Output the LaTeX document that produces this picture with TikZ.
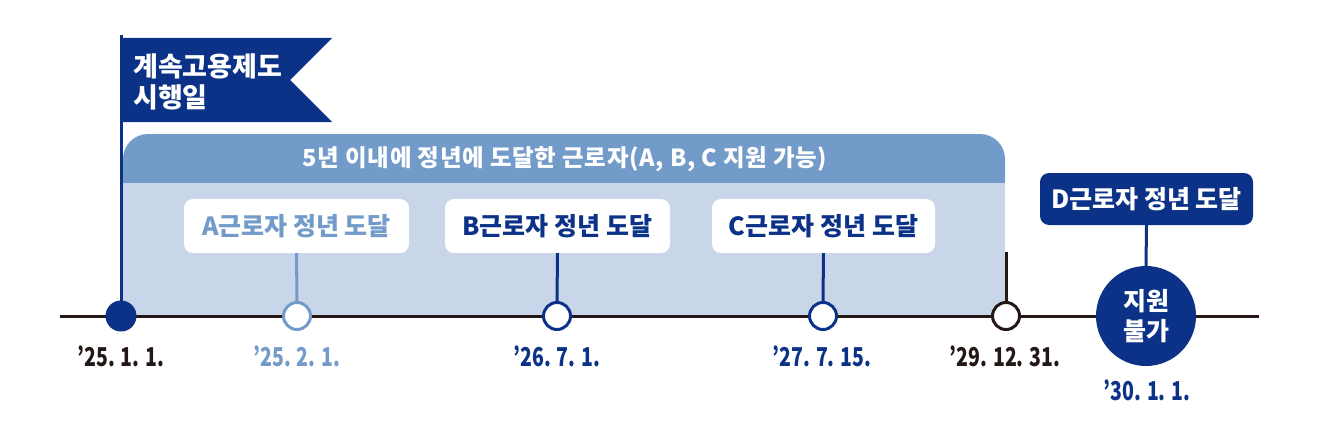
\documentclass[tikz,border=0pt]{standalone}
\usepackage{fontspec}
\setmainfont{Noto Sans CJK KR}
\newfontfamily\datefont[FakeStretch=0.75]{Noto Sans CJK KR}
\newfontfamily\hdrfont[LetterSpace=3]{Noto Sans CJK KR}
\definecolor{dblue}{HTML}{0B3287}
\definecolor{mblue}{HTML}{739BCA}
\definecolor{lblue}{HTML}{C9D6E9}
\definecolor{tblack}{HTML}{231815}
\tikzset{
  ring/.style={circle, draw, line width=3pt, fill=white, minimum size=27pt, inner sep=0pt},
  lbox/.style={rounded corners=9pt, fill=white, minimum height=54pt, inner sep=0pt, font=\fontsize{25}{30}\selectfont\bfseries},
  datelbl/.style={anchor=base, font=\datefont\fontsize{26}{30}\selectfont\bfseries, inner sep=0pt},
  conn/.style={line width=3pt},
}
\begin{document}
\begin{tikzpicture}[x=1pt,y=-1pt]
\useasboundingbox (0,0) rectangle (1320,436);
% region
\fill[mblue, rounded corners=25pt] (123,134) rectangle (1005,210);
\fill[lblue] (123,183) rectangle (1005,316);
\node[text=white, font=\hdrfont\fontsize{23.5}{28}\selectfont\bfseries] (hdr) at (565,159) {5년 이내에 정년에 도달한 근로자(A, B, C 지원 가능)};
% flag
\fill[dblue] (121,38) -- (332,38) -- (290,80) -- (332,122) -- (121,122) -- cycle;
\node[text=white, align=left, anchor=west, inner sep=0pt, font=\fontsize{27}{31}\selectfont\bfseries] (flagtxt) at (133,82) {계속고용제도\\시행일};
% timeline
\coordinate (tl) at (60,316);
\coordinate (tr) at (1259,316);
\draw[tblack, line width=3pt] (tl) -- (tr);
% pole
\coordinate (poletop) at (121,35);
\node[circle, fill=dblue, minimum size=31pt, inner sep=0pt] (n0) at (121,316) {};
\draw[dblue, line width=3pt] (poletop) -- (n0.center);
% circles
\node[ring, draw=mblue] (n1) at (297,316) {};
\node[ring, draw=dblue] (n2) at (557,316) {};
\node[ring, draw=dblue] (n3) at (823,316) {};
\node[ring, draw=tblack] (n4) at (1006,316) {};
\node[circle, fill=dblue, minimum size=100pt, inner sep=0pt, text=white, align=center, font=\fontsize{25}{30}\selectfont\bfseries] (n5) at (1146,316) {지원\\불가};
% boxes
\node[lbox, minimum width=225pt, text=mblue] (a) at (296.5,226) {A근로자 정년 도달};
\node[lbox, minimum width=225pt, text=dblue] (b) at (557.5,226) {B근로자 정년 도달};
\node[lbox, minimum width=223pt, text=dblue] (c) at (823.5,226) {C근로자 정년 도달};
\node[lbox, minimum width=213pt, minimum height=52pt, fill=dblue, text=white] (d) at (1146.5,199) {D근로자 정년 도달};
% connectors
\draw[conn, mblue] (a.south) -- (n1.north);
\draw[conn, dblue] (b.south) -- (n2.north);
\draw[conn, dblue] (c.south) -- (n3.north);
\coordinate (endtop) at (1006,252);
\draw[conn, tblack] (endtop) -- (n4.north);
\draw[conn, dblue] (d.south) -- (n5.north);
% dates
\node[datelbl, text=tblack] (d0) at (121,366) {’25. 1. 1.};
\node[datelbl, text=mblue] (d1) at (297,366) {’25. 2. 1.};
\node[datelbl, text=dblue] (d2) at (557,366) {’26. 7. 1.};
\node[datelbl, text=dblue] (d3) at (822,366) {’27. 7. 15.};
\node[datelbl, text=tblack] (d4) at (1005,366) {’29. 12. 31.};
\node[datelbl, text=dblue] (d5) at (1147,400) {’30. 1. 1.};
\end{tikzpicture}
\end{document}
